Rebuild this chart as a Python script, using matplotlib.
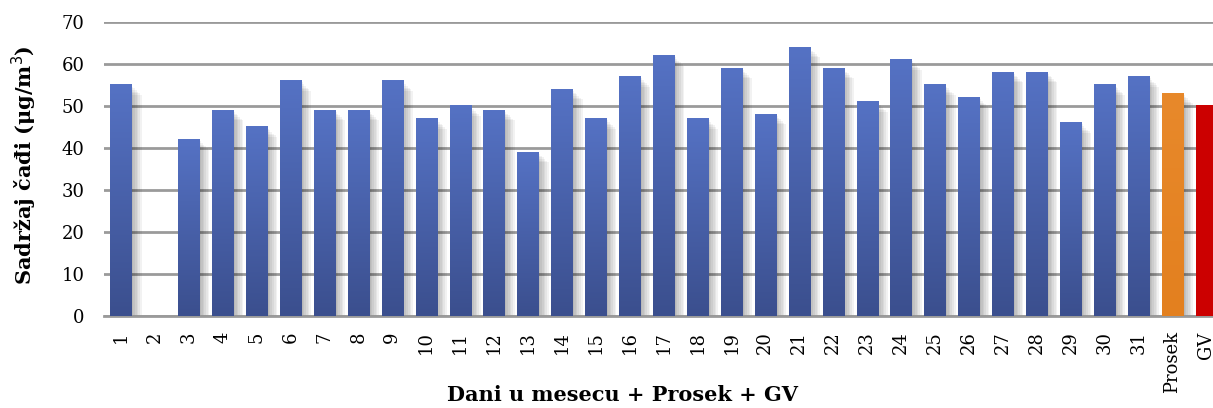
import matplotlib.pyplot as plt
import numpy as np
from matplotlib.colors import LinearSegmentedColormap

# Data
days = [str(d) for d in range(1, 32)]
labels = days + ['Prosek', 'GV']
values = [55, 0, 42, 49, 45, 56, 49, 49, 56, 47, 50, 49, 39, 54, 47, 57, 62, 47,
          59, 48, 64, 59, 51, 61, 55, 52, 58, 58, 46, 55, 57, 53, 50]

plt.rcParams['font.family'] = ['DejaVu Serif']

fig = plt.figure(figsize=(12.13, 4.08), dpi=100)
ax = fig.add_axes([0.0857, 0.2255, 1.0 - 0.0857, 0.7206])

x = np.arange(len(labels))
width = 0.62

blue = LinearSegmentedColormap.from_list('b', ['#3b4f8e', '#5572c4'])
orange = LinearSegmentedColormap.from_list('o', ['#e3801f', '#e8892b'])
red = LinearSegmentedColormap.from_list('r', ['#cc0000', '#cc0000'])
grad = np.linspace(0, 1, 100).reshape(-1, 1)

for xi, v, lab in zip(x, values, labels):
    if v <= 0:
        continue
    # soft shadow on the right side of the bar
    for k in range(6):
        ax.add_patch(plt.Rectangle((xi + width / 2, 0), 0.05 * (k + 1), v - 0.4 * (k + 1),
                                   color='#000000', alpha=0.05, lw=0, zorder=2))
    cmap = orange if lab == 'Prosek' else red if lab == 'GV' else blue
    ax.imshow(grad, cmap=cmap, origin='lower', aspect='auto',
              extent=(xi - width / 2, xi + width / 2, 0, v), zorder=3)

ax.set_xlim(-0.5, 32.2)
ax.set_ylim(0, 70)
ax.set_yticks(range(0, 71, 10))
ax.yaxis.grid(True, color='#9a9a9a', lw=2, zorder=1)
ax.set_axisbelow(True)

ax.set_xticks(x)
ax.set_xticklabels(labels, rotation=90, fontsize=13)
ax.tick_params(axis='y', labelsize=13, length=0, pad=14)
ax.tick_params(axis='x', length=0, pad=11)

for s in ['top', 'right', 'left']:
    ax.spines[s].set_visible(False)
ax.spines['bottom'].set_color('#9a9a9a')
ax.spines['bottom'].set_linewidth(2)

ax.set_ylabel('Sadržaj čađi (μg/m$^3$)', fontsize=15, fontweight='bold', va='center')
ax.yaxis.set_label_coords(-0.072, 0.514)
ax.set_xlabel('Dani u mesecu + Prosek + GV', fontsize=15, fontweight='bold', va='center')
ax.xaxis.set_label_coords(0.468, -0.27)

fig.savefig('out.png', dpi=100)
